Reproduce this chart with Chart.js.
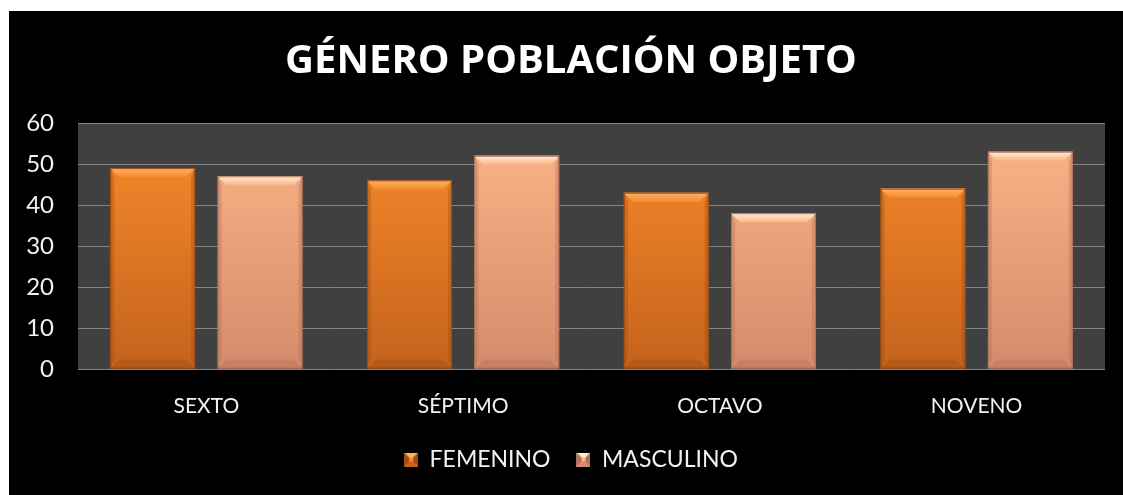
<!DOCTYPE html>
<html>
<head>
<meta charset="utf-8">
<script src="https://cdn.jsdelivr.net/npm/chart.js@4/dist/chart.umd.min.js"></script>
<style>
  html, body { margin: 0; padding: 0; background: #ffffff; }
  #wrap { position: absolute; left: 9px; top: 11px; width: 1114px; height: 484px; background: #000000; }
</style>
</head>
<body>
<div id="wrap"><canvas id="chart"></canvas></div>
<script>
// datos
const categorias = ['SEXTO', 'SÉPTIMO', 'OCTAVO', 'NOVENO'];
const femenino = [49, 46, 43, 44];
const masculino = [47, 52, 38, 53];
const yTicks = [0, 10, 20, 30, 40, 50, 60];

const FONT = 'Lato, "Open Sans", sans-serif';

// colores: [arriba, abajo, bisel claro, bisel oscuro]
const colFem = ['#f98b2c', '#c5631c', '#fdb36a', '#9e4c12'];
const colMas = ['#fdb587', '#d58b6b', '#fff0d4', '#b0705a'];

function grad(ctx, area, c) {
    if (!area) return c[0];
    const g = ctx.createLinearGradient(0, area.top, 0, area.bottom);
    g.addColorStop(0, c[0]);
    g.addColorStop(1, c[1]);
    return g;
}

// icono de la leyenda con efecto piramide
function legendIcon(c) {
    const cv = document.createElement('canvas');
    cv.width = 14; cv.height = 14;
    const x = cv.getContext('2d');
    const s = 14, b = 5;
    x.fillStyle = c[0]; x.fillRect(0, 0, s, s);
    x.fillStyle = c[2];
    x.beginPath(); x.moveTo(0, 0); x.lineTo(s, 0); x.lineTo(s - b, b); x.lineTo(b, b); x.fill();
    x.fillStyle = c[1];
    x.beginPath(); x.moveTo(0, s); x.lineTo(s, s); x.lineTo(s - b, s - b); x.lineTo(b, s - b); x.fill();
    x.fillStyle = c[3];
    x.beginPath(); x.moveTo(0, 0); x.lineTo(b, b); x.lineTo(b, s - b); x.lineTo(0, s); x.fill();
    x.beginPath(); x.moveTo(s, 0); x.lineTo(s - b, b); x.lineTo(s - b, s - b); x.lineTo(s, s); x.fill();
    return cv;
}

// fondo gris del area de trazado
const plotBg = {
    id: 'plotBg',
    beforeDraw(chart) {
        const { ctx, chartArea: a } = chart;
        ctx.save();
        ctx.fillStyle = '#404040';
        ctx.fillRect(a.left, a.top, a.right - a.left, a.bottom - a.top);
        ctx.restore();
    }
};

// etiquetas del eje Y (fuera del recorte del eje), posicion desde la escala
const yLabels = {
    id: 'yLabels',
    afterDraw(chart) {
        const { ctx, chartArea: a } = chart;
        const y = chart.scales.y;
        ctx.save();
        ctx.fillStyle = '#f2f2f2';
        ctx.font = '24px ' + FONT;
        ctx.textAlign = 'right';
        ctx.textBaseline = 'middle';
        yTicks.forEach(v => ctx.fillText(String(v), a.left - 24, y.getPixelForValue(v)));
        ctx.restore();
    }
};

// bisel de las barras (lee la geometria de cada barra de Chart.js)
const bevel = {
    id: 'bevel',
    afterDatasetsDraw(chart) {
        const ctx = chart.ctx;
        chart.data.datasets.forEach((ds, i) => {
            const c = i === 0 ? colFem : colMas;
            chart.getDatasetMeta(i).data.forEach(bar => {
                const l = bar.x - bar.width / 2, r = bar.x + bar.width / 2;
                const t = bar.y, btm = bar.base, b = 9;
                ctx.save();
                // arriba
                let g = ctx.createLinearGradient(0, t, 0, t + b);
                g.addColorStop(0, c[2]); g.addColorStop(1, c[0]);
                ctx.fillStyle = g;
                ctx.beginPath(); ctx.moveTo(l, t); ctx.lineTo(r, t); ctx.lineTo(r - b, t + b); ctx.lineTo(l + b, t + b); ctx.fill();
                // lados
                ctx.globalAlpha = 0.35;
                ctx.fillStyle = c[3];
                ctx.beginPath(); ctx.moveTo(l, t); ctx.lineTo(l + 4, t + b); ctx.lineTo(l + 4, btm - b); ctx.lineTo(l, btm); ctx.fill();
                ctx.beginPath(); ctx.moveTo(r, t); ctx.lineTo(r - 4, t + b); ctx.lineTo(r - 4, btm - b); ctx.lineTo(r, btm); ctx.fill();
                // abajo
                ctx.globalAlpha = 0.4;
                ctx.beginPath(); ctx.moveTo(l, btm); ctx.lineTo(r, btm); ctx.lineTo(r - b, btm - b); ctx.lineTo(l + b, btm - b); ctx.fill();
                ctx.globalAlpha = 1;
                ctx.strokeStyle = c[3];
                ctx.lineWidth = 1;
                ctx.strokeRect(l + 0.5, t + 0.5, bar.width - 1, btm - t - 1);
                ctx.restore();
            });
        });
    }
};

new Chart(document.getElementById('chart'), {
    type: 'bar',
    data: {
        labels: categorias,
        datasets: [
            { label: 'FEMENINO', data: femenino, backgroundColor: ctx => grad(ctx.chart.ctx, ctx.chart.chartArea, colFem), pointStyle: legendIcon(colFem) },
            { label: 'MASCULINO', data: masculino, backgroundColor: ctx => grad(ctx.chart.ctx, ctx.chart.chartArea, colMas), pointStyle: legendIcon(colMas) }
        ]
    },
    options: {
        responsive: true,
        maintainAspectRatio: false,
        animation: false,
        categoryPercentage: 0.836,
        barPercentage: 0.79,
        layout: { padding: { left: 28, right: 18, top: 0, bottom: 14 } },
        scales: {
            x: {
                grid: { display: false, drawTicks: false },
                border: { display: false },
                ticks: { color: '#f2f2f2', font: { family: FONT, size: 21 }, padding: 25 },
                afterFit: s => { s.height = 53; }
            },
            y: {
                min: 0, max: 60,
                afterBuildTicks: s => { s.ticks = yTicks.map(v => ({ value: v })); },
                grid: { color: '#858585', lineWidth: 1, drawTicks: false },
                border: { display: false },
                ticks: { display: false },
                afterFit: s => { s.width = 41; }
            }
        },
        plugins: {
            title: {
                display: true,
                text: 'GÉNERO POBLACIÓN OBJETO',
                color: '#ffffff',
                font: { family: '"Open Sans", Lato, sans-serif', size: 40, weight: 'bold', lineHeight: 1.2 },
                padding: { top: 27, bottom: 37 }
            },
            legend: {
                position: 'bottom',
                labels: {
                    usePointStyle: true,
                    boxWidth: 14, boxHeight: 14,
                    color: '#f2f2f2',
                    font: { family: FONT, size: 23 },
                    padding: 26
                }
            },
            tooltip: { enabled: false }
        }
    },
    plugins: [plotBg, bevel, yLabels]
});
</script>
</body>
</html>
